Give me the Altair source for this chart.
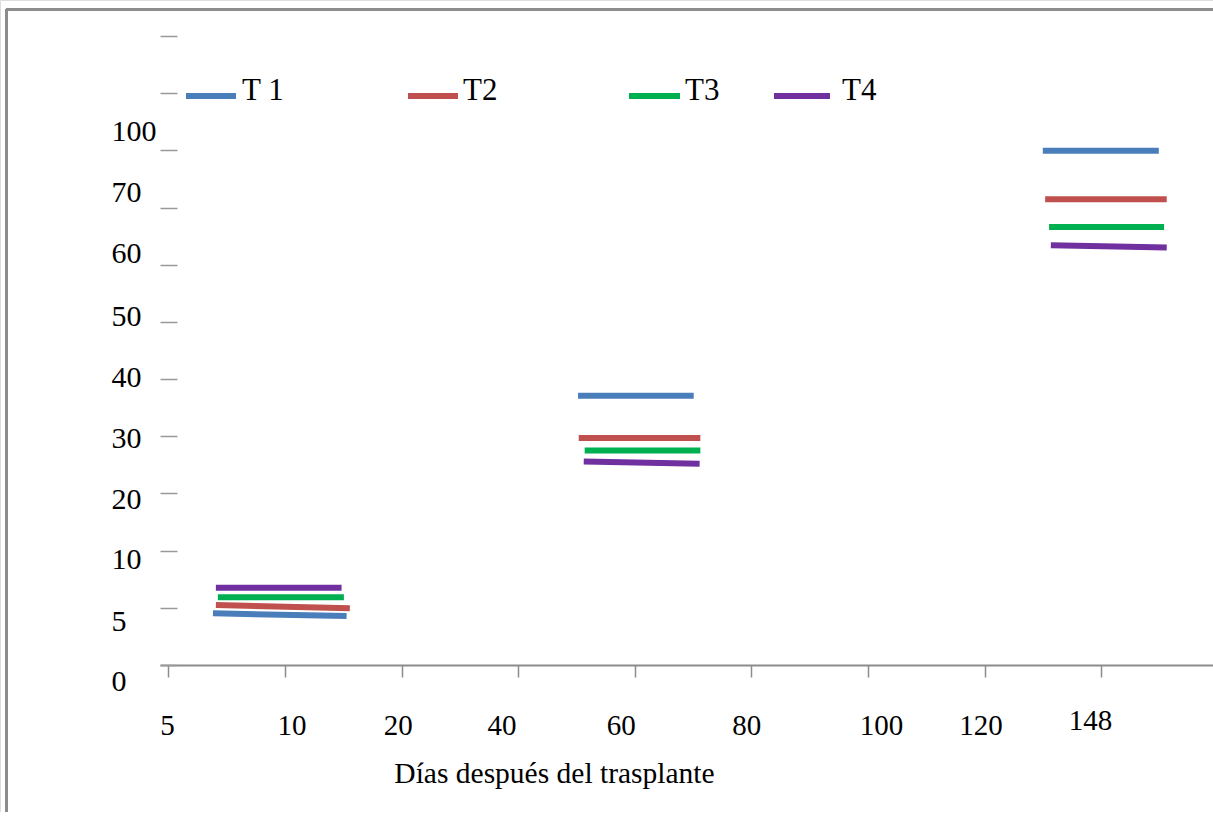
import altair as alt
import pandas as pd

# ---------------- data ----------------
DAYS = [5, 10, 20, 40, 60, 80, 100, 120, 148]          # x-axis categories
Y_TICKS = [0, 5, 10, 20, 30, 40, 50, 60, 70, 100, 130, 160]  # y ticks (top two unlabeled)
SERIES = ["T 1", "T2", "T3", "T4"]
COLORS = ["#4A7EBB", "#C0504D", "#00B050", "#7030A0"]
SAMPLE_DAYS = [10, 60, 148]

# value at the left and right end of each segment (per sample day)
T1_START = [4.52, 37.1, 99.8]
T1_END = [4.28, 37.1, 99.8]
T2_START = [5.24, 29.7, 74.3]
T2_END = [4.96, 29.7, 74.3]
T3_START = [5.92, 27.5, 66.6]
T3_END = [5.92, 27.5, 66.6]
T4_START = [6.76, 25.6, 63.4]
T4_END = [6.76, 25.2, 63.0]

# horizontal extent of each segment, in category units around its day
T1_FROM = [-0.617, -0.486, -0.50]
T1_TO = [0.529, 0.506, 0.495]
T2_FROM = [-0.592, -0.480, -0.48]
T2_TO = [0.557, 0.563, 0.563]
T3_FROM = [-0.575, -0.429, -0.446]
T3_TO = [0.506, 0.563, 0.54]
T4_FROM = [-0.592, -0.437, -0.431]
T4_TO = [0.486, 0.557, 0.563]

# ---------------- layout (pixels) ----------------
W, H = 1213, 812
X_AXIS_Y = 665
Y_TICK_TOP = 36
Y_AXIS_X = 177
FONT = "Liberation Serif"

Y_LABEL_SHIFT = [16.7, 13.4, 9.3, 5.7, 2, -2, -5.7, -11.5, -15.3, -19, 0, 0]
X_LABEL_SHIFT = [-1.3, 6.7, -3.7, -16.6, -14, -5, 13, -4, -11]

LEG_SYM_X0 = [186, 408, 629, 774]
LEG_SYM_X1 = [236, 458, 680, 830]
LEG_TEXT_X = [242, 463, 685, 842]

# ---------------- build tables ----------------
starts = [T1_START, T2_START, T3_START, T4_START]
ends = [T1_END, T2_END, T3_END, T4_END]
froms = [T1_FROM, T2_FROM, T3_FROM, T4_FROM]
tos = [T1_TO, T2_TO, T3_TO, T4_TO]

rows = []
for s, name in enumerate(SERIES):
    for g, day in enumerate(SAMPLE_DAYS):
        idx = DAYS.index(day)
        seg = f"{name}-{day}"
        rows.append({"series": name, "seg": seg, "pos": idx + froms[s][g], "value": starts[s][g], "o": 0})
        rows.append({"series": name, "seg": seg, "pos": idx + tos[s][g], "value": ends[s][g], "o": 1})
df = pd.DataFrame(rows)

legend_df = pd.DataFrame({"series": SERIES, "x0": LEG_SYM_X0, "x1": LEG_SYM_X1, "tx": LEG_TEXT_X})

step_y = (X_AXIS_Y - Y_TICK_TOP) / (len(Y_TICKS) - 1)
y_range = [X_AXIS_Y - i * step_y for i in range(len(Y_TICKS))]

x_left, x_right = 160, 1213
first_tick, step_x = 168.3, 116.6
x_domain = [(x_left - first_tick) / step_x, (x_right - first_tick) / step_x]

color_scale = alt.Scale(domain=SERIES, range=COLORS)

lines = alt.Chart(df).mark_line(strokeWidth=6, strokeCap="butt").encode(
    x=alt.X(
        "pos:Q",
        scale=alt.Scale(domain=x_domain, range=[x_left, x_right], nice=False, zero=False),
        axis=alt.Axis(
            orient="bottom",
            offset=-(H - X_AXIS_Y),
            values=list(range(len(DAYS))),
            labelExpr=f"{DAYS}[datum.value]",
            domainColor="#8C8C8C",
            domainWidth=2,
            tickColor="#8C8C8C",
            tickWidth=1.5,
            tickSize=12,
            grid=False,
            labelFont=FONT,
            labelFontSize=29,
            labelColor="black",
            labelBaseline="middle",
            labelAlign="center",
            labelPadding={"expr": "datum.value == 8 ? 43 : 48"},
            labelOffset={"expr": f"{X_LABEL_SHIFT}[datum.value]"},
            labelFlush=False,
            labelOverlap=False,
            labelBound=False,
            title="Días después del trasplante",
            titleFont=FONT,
            titleFontSize=29.5,
            titleFontWeight="normal",
            titleColor="black",
            titleX=554,
            titleY=773 - X_AXIS_Y,
            titleAlign="center",
            titleBaseline="middle",
            titleAngle=0,
        ),
    ),
    y=alt.Y(
        "value:Q",
        scale=alt.Scale(domain=Y_TICKS, range=y_range, nice=False, zero=False),
        axis=alt.Axis(
            orient="left",
            offset=-Y_AXIS_X,
            values=Y_TICKS,
            labelExpr="datum.value > 100 ? '' : datum.label",
            domain=False,
            tickColor="#999999",
            tickWidth=1.5,
            tickSize=17,
            grid=False,
            labelFont=FONT,
            labelFontSize=30,
            labelColor="black",
            labelAlign="left",
            labelBaseline="middle",
            labelPadding=Y_AXIS_X - 17 - 111,
            labelOffset={"expr": f"{Y_LABEL_SHIFT}[indexof({Y_TICKS}, datum.value)]"},
            labelFlush=False,
            labelOverlap=False,
            labelBound=False,
            title=None,
        ),
    ),
    color=alt.Color("series:N", scale=color_scale, legend=None),
    detail="seg:N",
    order="o:Q",
)

frame_left = alt.Chart(df).mark_rule(color="#8C8C8C", strokeWidth=2.3).encode(
    x=alt.value(6.3), y=alt.value(9.5), y2=alt.value(H)
)
frame_top = alt.Chart(df).mark_rule(color="#8C8C8C", strokeWidth=2.3).encode(
    x=alt.value(6.3), x2=alt.value(W), y=alt.value(9.5)
)

leg_sym = alt.Chart(legend_df).mark_rule(strokeWidth=6, strokeCap="butt").encode(
    x=alt.X("x0:Q", scale=None),
    x2="x1:Q",
    y=alt.value(96),
    color=alt.Color("series:N", scale=color_scale, legend=None),
)
leg_txt = alt.Chart(legend_df).mark_text(
    align="left", baseline="middle", font=FONT, fontSize=31, color="black"
).encode(
    x=alt.X("tx:Q", scale=None),
    y=alt.value(91),
    text="series:N",
)

chart = alt.layer(frame_left, frame_top, lines, leg_sym, leg_txt).properties(
    width=W,
    height=H,
    padding={"left": 0, "top": 0, "right": 0, "bottom": 0},
    autosize=alt.AutoSizeParams(type="none"),
).configure_view(stroke=None).configure(background="white")

chart.save("out.html", embed_options={"renderer": "svg", "actions": False})
